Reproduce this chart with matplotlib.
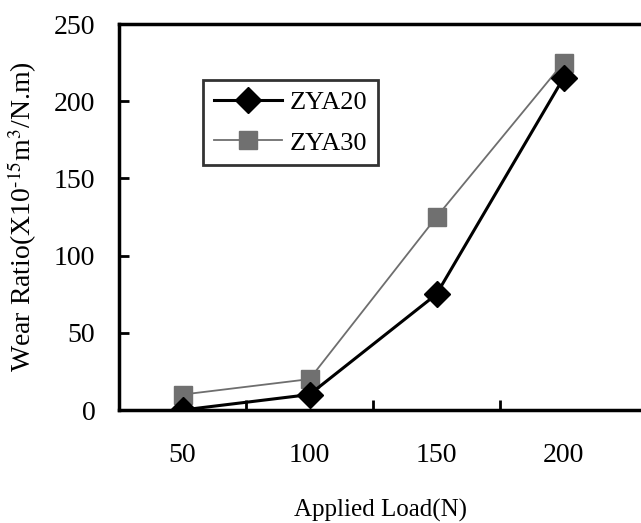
import numpy as np
import matplotlib
matplotlib.use('Agg')
import matplotlib.pyplot as plt

loads = ['50', '100', '150', '200']
zya20 = [0, 10, 75, 215]
zya30 = [10, 20, 125, 225]

plt.rcParams['font.family'] = 'Liberation Serif'
plt.rcParams['mathtext.fontset'] = 'stix'

fig = plt.figure(figsize=(6.41, 5.23), dpi=100)
ax = fig.add_axes([119 / 641, 113 / 523, 522 / 641, 386 / 523])

x = np.arange(len(loads))
ax.plot(x, zya30, color='#6e6e6e', lw=1.3, marker='s', ms=13,
        mfc='#707070', mec='#707070', label='ZYA30', zorder=2)
ax.plot(x, zya20, color='black', lw=2.2, marker='D', ms=13,
        mfc='black', mec='black', label='ZYA20', zorder=3)

ax.set_xlim(-0.5, -0.5 + 522 / 127)
ax.set_ylim(0, 250)
ax.set_yticks([0, 50, 100, 150, 200, 250])
ax.set_xticks(x)
ax.set_xticklabels(loads)
ax.set_xticks([0.5, 1.5, 2.5], minor=True)
ax.tick_params(axis='x', which='major', length=0, pad=24, labelsize=20)
ax.tick_params(axis='x', which='minor', direction='in', length=7, width=2)
ax.tick_params(axis='y', direction='in', length=7, width=2, pad=17, labelsize=20)

for s in ['left', 'bottom', 'top']:
    ax.spines[s].set_linewidth(2.5)
ax.spines['right'].set_visible(False)

ax.set_xlabel('Applied Load(N)', fontsize=18, labelpad=22)
ax.set_ylabel(r'Wear Ratio(X10$^{\text{-}15}$m$^{3}$/N.m)', fontsize=20, labelpad=11)

h, l = ax.get_legend_handles_labels()
leg = ax.legend(h[::-1], l[::-1], loc='upper left', bbox_to_anchor=(0.161, 0.855),
                borderaxespad=0, fontsize=19, frameon=True, fancybox=False,
                handlelength=2.6, borderpad=0.4, labelspacing=0.65,
                handletextpad=0.3)
leg.get_frame().set_edgecolor('black')
leg.get_frame().set_linewidth(2)

fig.savefig('out.png', dpi=100)
